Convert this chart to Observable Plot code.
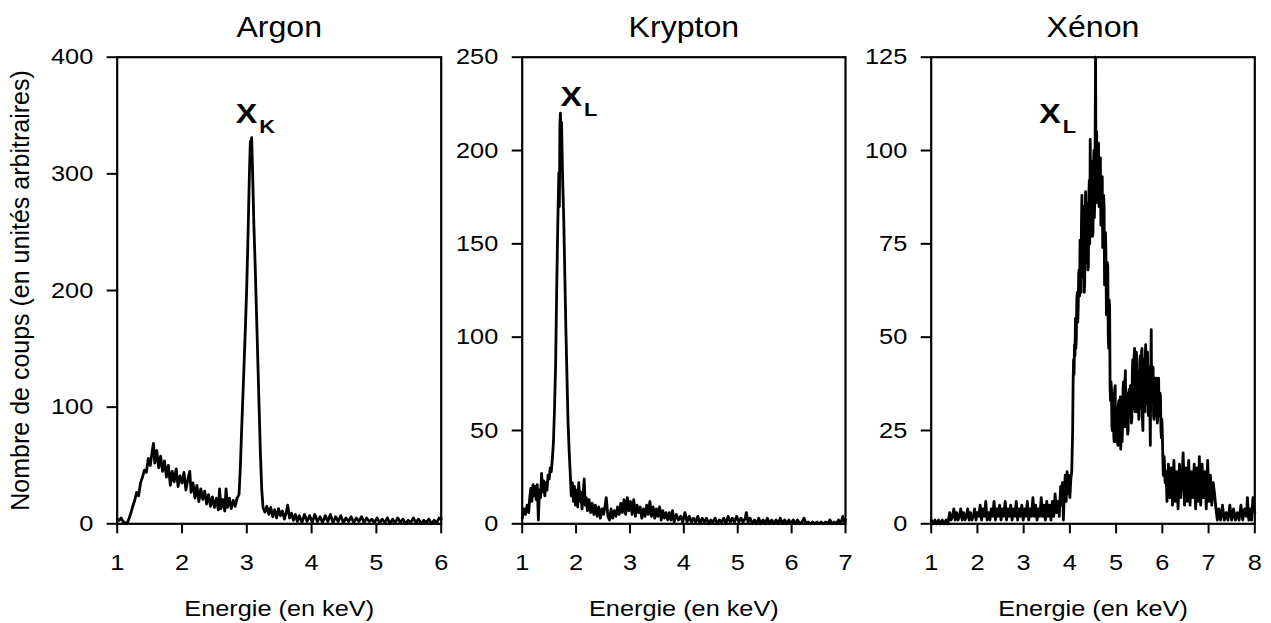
<!DOCTYPE html>
<html>
<head>
<meta charset="utf-8">
<script src="https://cdn.jsdelivr.net/npm/d3@7"></script>
<script src="https://cdn.jsdelivr.net/npm/@observablehq/plot@0.6"></script>
<style>
  body { margin: 0; background: #fff; }
  #chart { position: relative; width: 1271px; height: 623px; font-family: "Liberation Sans", Arial, sans-serif; }
  #chart svg { position: absolute; top: 0; overflow: visible; }
  #chart g[aria-label$="tick"], #chart g[aria-label$="tick"] * { stroke-width: 2px; }
</style>
</head>
<body>
<div id="chart"></div>
<script>
// ---------------- DATA ----------------
const titles = ["Argon", "Krypton", "Xénon"];
const xAxisLabel = "Energie (en keV)";
const yAxisLabel = "Nombre de coups (en unités arbitraires)";

const argonXTicks = [1, 2, 3, 4, 5, 6];
const kryptonXTicks = [1, 2, 3, 4, 5, 6, 7];
const xenonXTicks = [1, 2, 3, 4, 5, 6, 7, 8];
const argonYTicks = [0, 100, 200, 300, 400];
const kryptonYTicks = [0, 50, 100, 150, 200, 250];
const xenonYTicks = [0, 25, 50, 75, 100, 125];

// peak labels: [energy, count, main, subscript]
const argonPeakLabel = [3.16, 344, "X", "K"];
const kryptonPeakLabel = [2.11, 223.6, "X", "L"];
const xenonPeakLabel = [3.80, 107.4, "X", "L"];

// spectra: [energy (keV), counts]
const argonSpectrum = [[1.00,4],[1.03,3],[1.06,5],[1.09,2],[1.12,1],[1.15,0],[1.18,4],[1.21,9],[1.24,15],[1.27,20],[1.30,27],[1.33,24],[1.36,35],[1.39,40],[1.42,46],[1.45,44],[1.48,56],[1.51,50],[1.54,62],[1.56,69],[1.58,52],[1.61,63],[1.64,48],[1.67,58],[1.70,45],[1.73,54],[1.76,40],[1.79,50],[1.82,33],[1.85,45],[1.88,36],[1.91,47],[1.94,32],[1.97,41],[2.00,35],[2.03,44],[2.06,29],[2.09,38],[2.12,45],[2.14,27],[2.17,35],[2.20,22],[2.23,33],[2.26,19],[2.29,30],[2.32,21],[2.35,28],[2.38,17],[2.41,25],[2.44,15],[2.47,23],[2.50,14],[2.53,22],[2.56,12],[2.58,30],[2.60,13],[2.63,21],[2.66,11],[2.68,30],[2.70,14],[2.73,22],[2.76,13],[2.79,20],[2.82,15],[2.85,22],[2.88,25],[2.90,48],[2.92,80],[2.94,110],[2.96,140],[2.98,171],[3.00,205],[3.02,250],[3.04,300],[3.055,328],[3.065,318],[3.075,331],[3.09,300],[3.11,255],[3.13,220],[3.15,180],[3.17,140],[3.19,100],[3.21,60],[3.23,30],[3.25,14],[3.28,10],[3.31,15],[3.34,8],[3.37,14],[3.40,6],[3.43,12],[3.46,5],[3.49,13],[3.52,7],[3.55,11],[3.58,4],[3.61,10],[3.63,16],[3.66,5],[3.69,9],[3.72,3],[3.75,8],[3.78,2],[3.81,7],[3.85,1],[3.89,8],[3.93,2],[3.97,7],[4.01,1],[4.05,8],[4.09,2],[4.13,6],[4.17,1],[4.21,7],[4.25,2],[4.29,8],[4.33,1],[4.37,6],[4.41,2],[4.45,7],[4.49,1],[4.53,5],[4.57,2],[4.61,6],[4.65,1],[4.69,5],[4.73,2],[4.77,6],[4.81,1],[4.85,5],[4.89,2],[4.93,4],[4.97,1],[5.01,5],[5.05,1],[5.09,4],[5.13,1],[5.17,5],[5.21,0],[5.25,4],[5.29,1],[5.33,5],[5.37,1],[5.41,4],[5.45,0],[5.49,3],[5.53,1],[5.57,5],[5.61,1],[5.65,4],[5.69,0],[5.73,3],[5.77,1],[5.81,4],[5.85,0],[5.89,3],[5.93,1],[5.97,5],[6.00,4]];

const kryptonSpectrum = [[1.00,3],[1.03,8],[1.06,5],[1.09,10],[1.12,6],[1.14,14],[1.16,19],[1.18,12],[1.20,21],[1.22,15],[1.24,20],[1.26,13],[1.28,21],[1.30,2],[1.32,18],[1.34,14],[1.36,27],[1.38,17],[1.40,23],[1.42,15],[1.44,22],[1.46,18],[1.48,26],[1.50,24],[1.52,30],[1.54,28],[1.56,35],[1.58,44],[1.60,62],[1.62,85],[1.64,125],[1.66,160],[1.68,188],[1.69,170],[1.70,214],[1.71,220],[1.72,205],[1.73,215],[1.75,185],[1.77,165],[1.79,135],[1.81,105],[1.83,80],[1.85,55],[1.87,40],[1.89,28],[1.91,15],[1.93,22],[1.95,12],[1.97,20],[1.99,10],[2.01,18],[2.03,9],[2.05,22],[2.07,12],[2.09,17],[2.11,8],[2.13,15],[2.15,24],[2.17,10],[2.19,14],[2.21,7],[2.24,13],[2.27,6],[2.30,11],[2.33,5],[2.36,10],[2.39,4],[2.42,9],[2.45,3],[2.48,8],[2.51,5],[2.54,10],[2.56,14],[2.59,4],[2.62,2],[2.65,8],[2.68,3],[2.71,7],[2.74,4],[2.77,9],[2.80,5],[2.83,11],[2.86,6],[2.89,13],[2.92,5],[2.95,14],[2.98,7],[3.01,12],[3.04,5],[3.07,13],[3.10,4],[3.13,10],[3.16,6],[3.19,9],[3.22,3],[3.25,8],[3.28,4],[3.31,10],[3.34,5],[3.37,12],[3.40,4],[3.43,9],[3.46,3],[3.49,8],[3.52,4],[3.55,9],[3.58,2],[3.61,7],[3.64,3],[3.67,6],[3.70,2],[3.73,6],[3.76,2],[3.79,7],[3.82,1],[3.86,5],[3.90,2],[3.94,4],[3.98,1],[4.02,6],[4.06,1],[4.10,4],[4.14,1],[4.18,3],[4.22,1],[4.26,4],[4.30,0],[4.34,3],[4.38,1],[4.42,3],[4.46,0],[4.50,2],[4.54,1],[4.58,3],[4.62,0],[4.66,2],[4.70,1],[4.74,3],[4.78,0],[4.82,4],[4.86,1],[4.90,3],[4.94,1],[4.98,4],[5.02,1],[5.06,3],[5.10,1],[5.14,3],[5.16,6],[5.19,1],[5.23,3],[5.27,0],[5.31,2],[5.35,0],[5.39,3],[5.43,0],[5.47,2],[5.51,0],[5.55,3],[5.59,0],[5.63,2],[5.67,0],[5.71,2],[5.75,0],[5.79,3],[5.83,0],[5.87,2],[5.91,0],[5.95,2],[5.99,0],[6.03,2],[6.07,0],[6.11,2],[6.15,0],[6.19,1],[6.23,3],[6.27,0],[6.31,1],[6.35,0],[6.39,1],[6.43,0],[6.47,1],[6.51,0],[6.55,1],[6.59,0],[6.63,1],[6.67,0],[6.71,2],[6.75,0],[6.79,1],[6.83,0],[6.87,2],[6.91,0],[6.95,4],[6.98,1],[7.00,2]];

const xenonSpectrum = [[1.00,1],[1.04,0],[1.08,1],[1.12,0],[1.16,1],[1.20,0],[1.24,1],[1.28,0],[1.32,1],[1.36,0],[1.40,3],[1.43,1],[1.46,2],[1.49,4],[1.52,1],[1.55,3],[1.58,1],[1.61,2],[1.64,4],[1.67,1],[1.70,3],[1.73,1],[1.76,2],[1.79,4],[1.82,1],[1.85,3],[1.88,1],[1.91,2],[1.94,4],[1.97,1],[2.00,3],[2.03,2],[2.06,5],[2.09,1],[2.12,4],[2.15,2],[2.18,6],[2.21,1],[2.24,3],[2.27,1],[2.30,4],[2.33,2],[2.36,6],[2.39,1],[2.42,4],[2.45,2],[2.48,5],[2.51,1],[2.54,4],[2.57,2],[2.60,6],[2.63,1],[2.66,4],[2.69,2],[2.72,5],[2.75,1],[2.78,4],[2.81,2],[2.84,6],[2.87,1],[2.90,4],[2.93,2],[2.96,5],[2.99,1],[3.02,4],[3.05,2],[3.08,6],[3.11,1],[3.14,4],[3.17,2],[3.20,7],[3.23,2],[3.26,5],[3.29,1],[3.32,4],[3.35,2],[3.38,7],[3.41,2],[3.44,5],[3.47,1],[3.50,6],[3.53,2],[3.56,5],[3.59,1],[3.62,6],[3.65,2],[3.68,8],[3.71,3],[3.74,6],[3.77,2],[3.80,10],[3.82,5],[3.84,11],[3.86,1],[3.88,9],[3.90,13],[3.92,6],[3.94,14],[3.96,8],[3.98,13],[4.00,7],[4.02,12],[4.04,14],
[4.06,25],[4.07,38],[4.08,44],[4.09,40],[4.10,48],[4.11,45],[4.12,55],[4.13,47],[4.14,50],[4.15,60],[4.16,62],[4.17,54],[4.18,58],[4.19,67],[4.20,68],[4.21,61],[4.22,76],[4.23,64],[4.24,62],[4.25,80],[4.26,88],[4.27,66],[4.28,70],[4.29,84],[4.30,85],[4.31,62],[4.32,64],[4.33,82],[4.34,89],[4.35,70],[4.36,72],[4.37,86],[4.38,84],[4.39,68],[4.40,69],[4.41,88],[4.42,92],[4.43,75],[4.44,103],[4.45,79],[4.46,80],[4.47,95],[4.48,97],[4.49,77],[4.50,78],[4.51,96],[4.52,100],[4.53,82],[4.54,88],[4.555,125],[4.565,95],[4.57,86],[4.58,105],[4.59,88],[4.60,90],[4.61,99],[4.62,102],[4.63,85],[4.64,86],[4.65,97],[4.66,98],[4.67,80],[4.68,84],[4.69,92],[4.70,93],[4.71,74],[4.72,75],[4.73,88],[4.74,85],[4.75,64],[4.76,67],[4.77,78],[4.78,72],[4.79,56],[4.80,58],[4.81,70],[4.82,69],[4.83,50],[4.84,47],[4.85,60],[4.86,58],[4.87,36],[4.88,33],[4.89,38],[4.90,36],[4.91,26],[4.92,25],[4.93,35],[4.94,34],[4.95,23],[4.96,22],[4.97,36],[4.98,37],[4.99,22],[5.00,24],
[5.01,30],[5.02,31],[5.03,22],[5.04,21],[5.05,32],[5.06,33],[5.07,24],[5.08,25],[5.09,34],[5.10,20],[5.11,28],[5.12,30],[5.13,22],[5.14,27],[5.15,36],[5.16,38],[5.17,26],[5.18,28],[5.19,37],[5.20,41],[5.21,29],[5.22,26],[5.23,35],[5.24,34],[5.25,24],[5.26,25],[5.27,33],[5.28,36],[5.29,30],[5.30,31],[5.31,37],[5.32,35],[5.33,27],[5.34,28],[5.35,40],[5.36,44],[5.37,31],[5.38,32],[5.39,45],[5.40,47],[5.41,30],[5.42,33],[5.43,44],[5.44,46],[5.45,30],[5.46,31],[5.47,41],[5.48,40],[5.49,28],[5.50,29],[5.51,43],[5.52,45],[5.53,31],[5.54,33],[5.55,46],[5.56,47],[5.57,28],[5.58,25],[5.59,42],[5.60,44],[5.61,31],[5.62,30],[5.63,45],[5.64,48],[5.65,32],[5.66,33],[5.67,44],[5.68,46],[5.69,30],[5.70,29],[5.71,40],[5.72,42],[5.73,30],[5.74,21],[5.75,40],[5.76,52],[5.77,33],[5.78,35],[5.79,41],[5.80,42],[5.81,29],[5.82,28],[5.83,38],[5.84,39],[5.85,29],[5.86,30],[5.87,39],[5.88,38],[5.89,27],[5.90,28],[5.91,38],[5.92,39],[5.93,29],[5.94,30],[5.95,35],[5.96,34],[5.97,25],[5.98,23],[5.99,28],[6.00,24],
[6.02,13],[6.04,18],[6.06,11],[6.08,14],[6.10,6],[6.13,16],[6.16,7],[6.19,15],[6.22,5],[6.25,17],[6.28,6],[6.31,14],[6.34,4],[6.37,16],[6.40,7],[6.43,13],[6.45,19],[6.48,5],[6.51,15],[6.54,6],[6.57,17],[6.60,5],[6.63,14],[6.66,7],[6.69,16],[6.72,4],[6.75,15],[6.78,6],[6.80,18],[6.83,5],[6.86,16],[6.89,7],[6.92,14],[6.95,4],[6.98,17],[7.01,6],[7.04,13],[7.07,5],[7.10,11],[7.13,8],[7.16,4],[7.19,1],[7.22,4],[7.26,1],[7.30,5],[7.34,1],[7.38,3],[7.42,1],[7.46,5],[7.50,1],[7.54,4],[7.58,1],[7.62,3],[7.66,1],[7.70,5],[7.74,1],[7.78,4],[7.82,2],[7.84,7],[7.87,1],[7.90,4],[7.93,1],[7.96,7],[8.00,3]];

// ---------------- LAYOUT ----------------
const FONT = '"Liberation Sans", Arial, Helvetica, sans-serif';
const panels = [
  {title: titles[0], data: argonSpectrum, xTicks: argonXTicks, yTicks: argonYTicks, peak: argonPeakLabel,
   left: 0, width: 445, marginLeft: 116.7, marginRight: 4.3, yLabel: true},
  {title: titles[1], data: kryptonSpectrum, xTicks: kryptonXTicks, yTicks: kryptonYTicks, peak: kryptonPeakLabel,
   left: 445, width: 415, marginLeft: 76.7, marginRight: 15, yLabel: false},
  {title: titles[2], data: xenonSpectrum, xTicks: xenonXTicks, yTicks: xenonYTicks, peak: xenonPeakLabel,
   left: 860, width: 411, marginLeft: 70.7, marginRight: 16.7, yLabel: false}
];

const chart = document.getElementById("chart");

function stretchText(svg) {
  svg.querySelectorAll("text").forEach(t => {
    const tr = t.getAttribute("transform") || "";
    if (tr.includes("rotate")) return;
    const fs = parseFloat(getComputedStyle(t).fontSize);
    const k = fs >= 29 ? 1.07 : 1.15;
    const x = parseFloat(t.getAttribute("x")) || 0;
    const y = parseFloat(t.getAttribute("y")) || 0;
    t.setAttribute("transform", `${tr} translate(${x},${y}) scale(${k},1) translate(${-x},${-y})`.trim());
  });
}

panels.forEach(p => {
  const xDomain = d3.extent(p.xTicks);
  const yDomain = d3.extent(p.yTicks);
  const marks = [
    Plot.line(p.data, {x: d => d[0], y: d => d[1], stroke: "black", strokeWidth: 2.8}),
    Plot.frame({stroke: "black", strokeWidth: 2.2}),
    Plot.text([p.title], {frameAnchor: "top", dy: -20, textAnchor: "middle", lineAnchor: "bottom", fontSize: 30, text: d => d, fill: "black"}),
    Plot.text([xAxisLabel], {frameAnchor: "bottom", dy: 91.7, textAnchor: "middle", lineAnchor: "bottom", fontSize: 22, text: d => d, fill: "black"}),
    Plot.text([p.peak], {x: d => d[0], y: d => d[1], text: d => d[2], textAnchor: "end", lineAnchor: "bottom",
      fontWeight: "bold", fontSize: 28, fill: "black"}),
    Plot.text([p.peak], {x: d => d[0], y: d => d[1], text: d => d[3], textAnchor: "start", lineAnchor: "bottom",
      dx: 2, dy: 10, fontWeight: "bold", fontSize: 19, fill: "black"})
  ];
  if (p.yLabel) {
    marks.push(Plot.text([yAxisLabel], {frameAnchor: "left", rotate: -90, dx: -88, textAnchor: "middle", lineAnchor: "bottom",
      fontSize: 25, text: d => d, fill: "black"}));
  }
  const svg = Plot.plot({
    width: p.width,
    height: 623,
    marginLeft: p.marginLeft,
    marginRight: p.marginRight,
    marginTop: 56.7,
    marginBottom: 99.7,
    style: {fontFamily: FONT, fontSize: "22px", background: "transparent", overflow: "visible", color: "black"},
    x: {domain: xDomain, ticks: p.xTicks, tickSize: 10, tickPadding: 21, label: null, tickFormat: d => String(d)},
    y: {domain: yDomain, ticks: p.yTicks, tickSize: 10, tickPadding: 14, label: null, tickFormat: d => String(d)},
    marks
  });
  svg.style.left = p.left + "px";
  svg.style.width = p.width + "px";
  svg.style.maxWidth = "none";
  chart.appendChild(svg);
  stretchText(svg);
});
</script>
</body>
</html>
